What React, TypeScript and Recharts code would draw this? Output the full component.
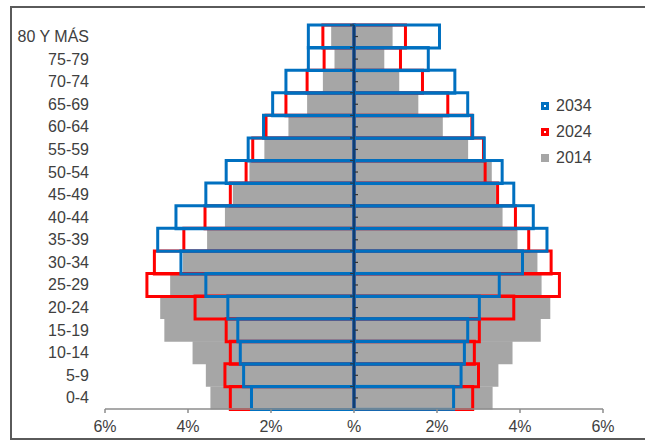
import React from "react";
import { BarChart, Bar, XAxis, YAxis, ReferenceLine } from "recharts";

const ages = ["80 Y MÁS", "75-79", "70-74", "65-69", "60-64", "55-59", "50-54", "45-49", "40-44", "35-39", "30-34", "25-29", "20-24", "15-19", "10-14", "5-9", "0-4"];

const left2014 = [-0.55, -0.47, -0.75, -1.13, -1.58, -2.16, -2.52, -2.92, -3.11, -3.54, -4.12, -4.43, -4.67, -4.57, -3.89, -3.57, -3.46];
const right2014 = [0.93, 0.73, 1.09, 1.55, 2.14, 2.75, 3.32, 3.42, 3.58, 3.94, 4.42, 4.52, 4.73, 4.5, 3.82, 3.48, 3.34];
const left2024 = [-0.75, -0.72, -1.13, -1.64, -2.12, -2.44, -2.6, -2.98, -3.59, -4.1, -4.81, -4.99, -3.83, -3.08, -2.98, -3.11, -2.98];
const right2024 = [1.24, 1.12, 1.65, 2.26, 2.84, 3.12, 3.16, 3.46, 3.89, 4.21, 4.75, 4.95, 3.85, 3.02, 2.9, 3.0, 2.86];
const left2034 = [-1.1, -1.1, -1.64, -1.96, -2.18, -2.55, -3.08, -3.57, -4.29, -4.73, -4.17, -3.57, -3.04, -2.8, -2.74, -2.66, -2.47];
const right2034 = [2.06, 1.79, 2.43, 2.74, 2.86, 3.14, 3.57, 3.85, 4.32, 4.65, 4.06, 3.5, 3.02, 2.74, 2.66, 2.58, 2.4];

const xTicks = [-6, -4, -2, 0, 2, 4, 6];

const legendItems = [
  { name: "2034", color: "#0070C0", outline: true },
  { name: "2024", color: "#FF0000", outline: true },
  { name: "2014", color: "#A6A6A6", outline: false },
];

const data = ages.map((age, i) => ({
  age,
  l14: left2014[i],
  r14: right2014[i],
  l24: left2024[i],
  r24: right2024[i],
  l34: left2034[i],
  r34: right2034[i],
}));

const FONT = '"Liberation Sans", Arial, sans-serif';
const TEXT = "#404040";
const BLUE = "#0070C0";
const RED = "#FF0000";
const GRAY = "#A6A6A6";
const AXIS_DARK = "#0d3f73";

// Blue outline bar for the right side; also draws the small tick marks of the
// vertical (zero) axis, which sit on the bar's base edge.
const RightBlueShape = (props: any) => {
  const { x, y, width, height } = props;
  if (width == null || height == null) return null;
  const last = props.index === ages.length - 1;
  return (
    <g>
      <rect x={x} y={y} width={width} height={height} fill="none" stroke={BLUE} strokeWidth={3} />
      <line x1={x - 4} y1={y} x2={x} y2={y} stroke="#333" strokeWidth={1.2} />
      <line x1={x} y1={y + height / 2} x2={x + 4} y2={y + height / 2} stroke="#333" strokeWidth={1.2} />
      {last ? <line x1={x - 4} y1={y + height} x2={x} y2={y + height} stroke="#333" strokeWidth={1.2} /> : null}
    </g>
  );
};

export default function App() {
  return (
    <div
      style={{
        position: "absolute",
        left: 0,
        top: 0,
        width: 645,
        height: 441,
        overflow: "hidden",
        background: "#fff",
        fontFamily: FONT,
      }}
    >
      <div
        style={{
          position: "absolute",
          left: 10,
          top: 6,
          width: 700,
          height: 434,
          border: "2px solid #5a5a5a",
          boxSizing: "border-box",
        }}
      />
      <div style={{ position: "absolute", left: 0, top: 0 }}>
        <BarChart
          width={645}
          height={441}
          data={data}
          layout="vertical"
          margin={{ top: 25, right: 42, bottom: 2, left: 0 }}
          barCategoryGap={0}
          barGap={0}
          stackOffset="sign"
        >
          <XAxis
            type="number"
            domain={[-6, 6]}
            ticks={xTicks}
            height={30}
            tickFormatter={(v: number) => (v === 0 ? "%" : Math.abs(v) + "%")}
            tick={{ fill: TEXT, fontSize: 16, fontFamily: FONT }}
            axisLine={{ stroke: "#8c8c8c", strokeWidth: 1.5 }}
            tickLine={{ stroke: "#8c8c8c", strokeWidth: 1.5 }}
            tickSize={4}
            tickMargin={8}
            xAxisId="x"
          />
          <YAxis
            yAxisId="y14"
            type="category"
            dataKey="age"
            width={105}
            tickLine={false}
            axisLine={false}
            tickSize={0}
            tickMargin={16}
            interval={0}
            tick={{ fill: TEXT, fontSize: 16, fontFamily: FONT }}
          />
          <YAxis yAxisId="y24" type="category" dataKey="age" hide />
          <YAxis yAxisId="y34" type="category" dataKey="age" hide />
          <Bar dataKey="l14" stackId="s14" yAxisId="y14" xAxisId="x" fill={GRAY} isAnimationActive={false} />
          <Bar dataKey="r14" stackId="s14" yAxisId="y14" xAxisId="x" fill={GRAY} isAnimationActive={false} />
          <Bar dataKey="l24" stackId="s24" yAxisId="y24" xAxisId="x" fill="none" stroke={RED} strokeWidth={3} isAnimationActive={false} />
          <Bar dataKey="r24" stackId="s24" yAxisId="y24" xAxisId="x" fill="none" stroke={RED} strokeWidth={3} isAnimationActive={false} />
          <Bar dataKey="l34" stackId="s34" yAxisId="y34" xAxisId="x" fill="none" stroke={BLUE} strokeWidth={3} isAnimationActive={false} />
          <Bar dataKey="r34" stackId="s34" yAxisId="y34" xAxisId="x" fill="none" shape={RightBlueShape} isAnimationActive={false} />
          <ReferenceLine x={0} xAxisId="x" yAxisId="y14" stroke={AXIS_DARK} strokeWidth={2} />
        </BarChart>
      </div>
      {legendItems.map((it, i) => (
        <div
          key={it.name}
          style={{
            position: "absolute",
            left: 541,
            top: 97.5 + i * 26.3,
            height: 16,
            display: "flex",
            alignItems: "center",
          }}
        >
          <div
            style={{
              width: 8,
              height: 8,
              boxSizing: "border-box",
              background: it.outline ? "#fff" : it.color,
              border: it.outline ? `3px solid ${it.color}` : "none",
            }}
          />
          <span style={{ marginLeft: 7, fontSize: 16, lineHeight: "16px", color: TEXT, fontFamily: FONT }}>
            {it.name}
          </span>
        </div>
      ))}
    </div>
  );
}
